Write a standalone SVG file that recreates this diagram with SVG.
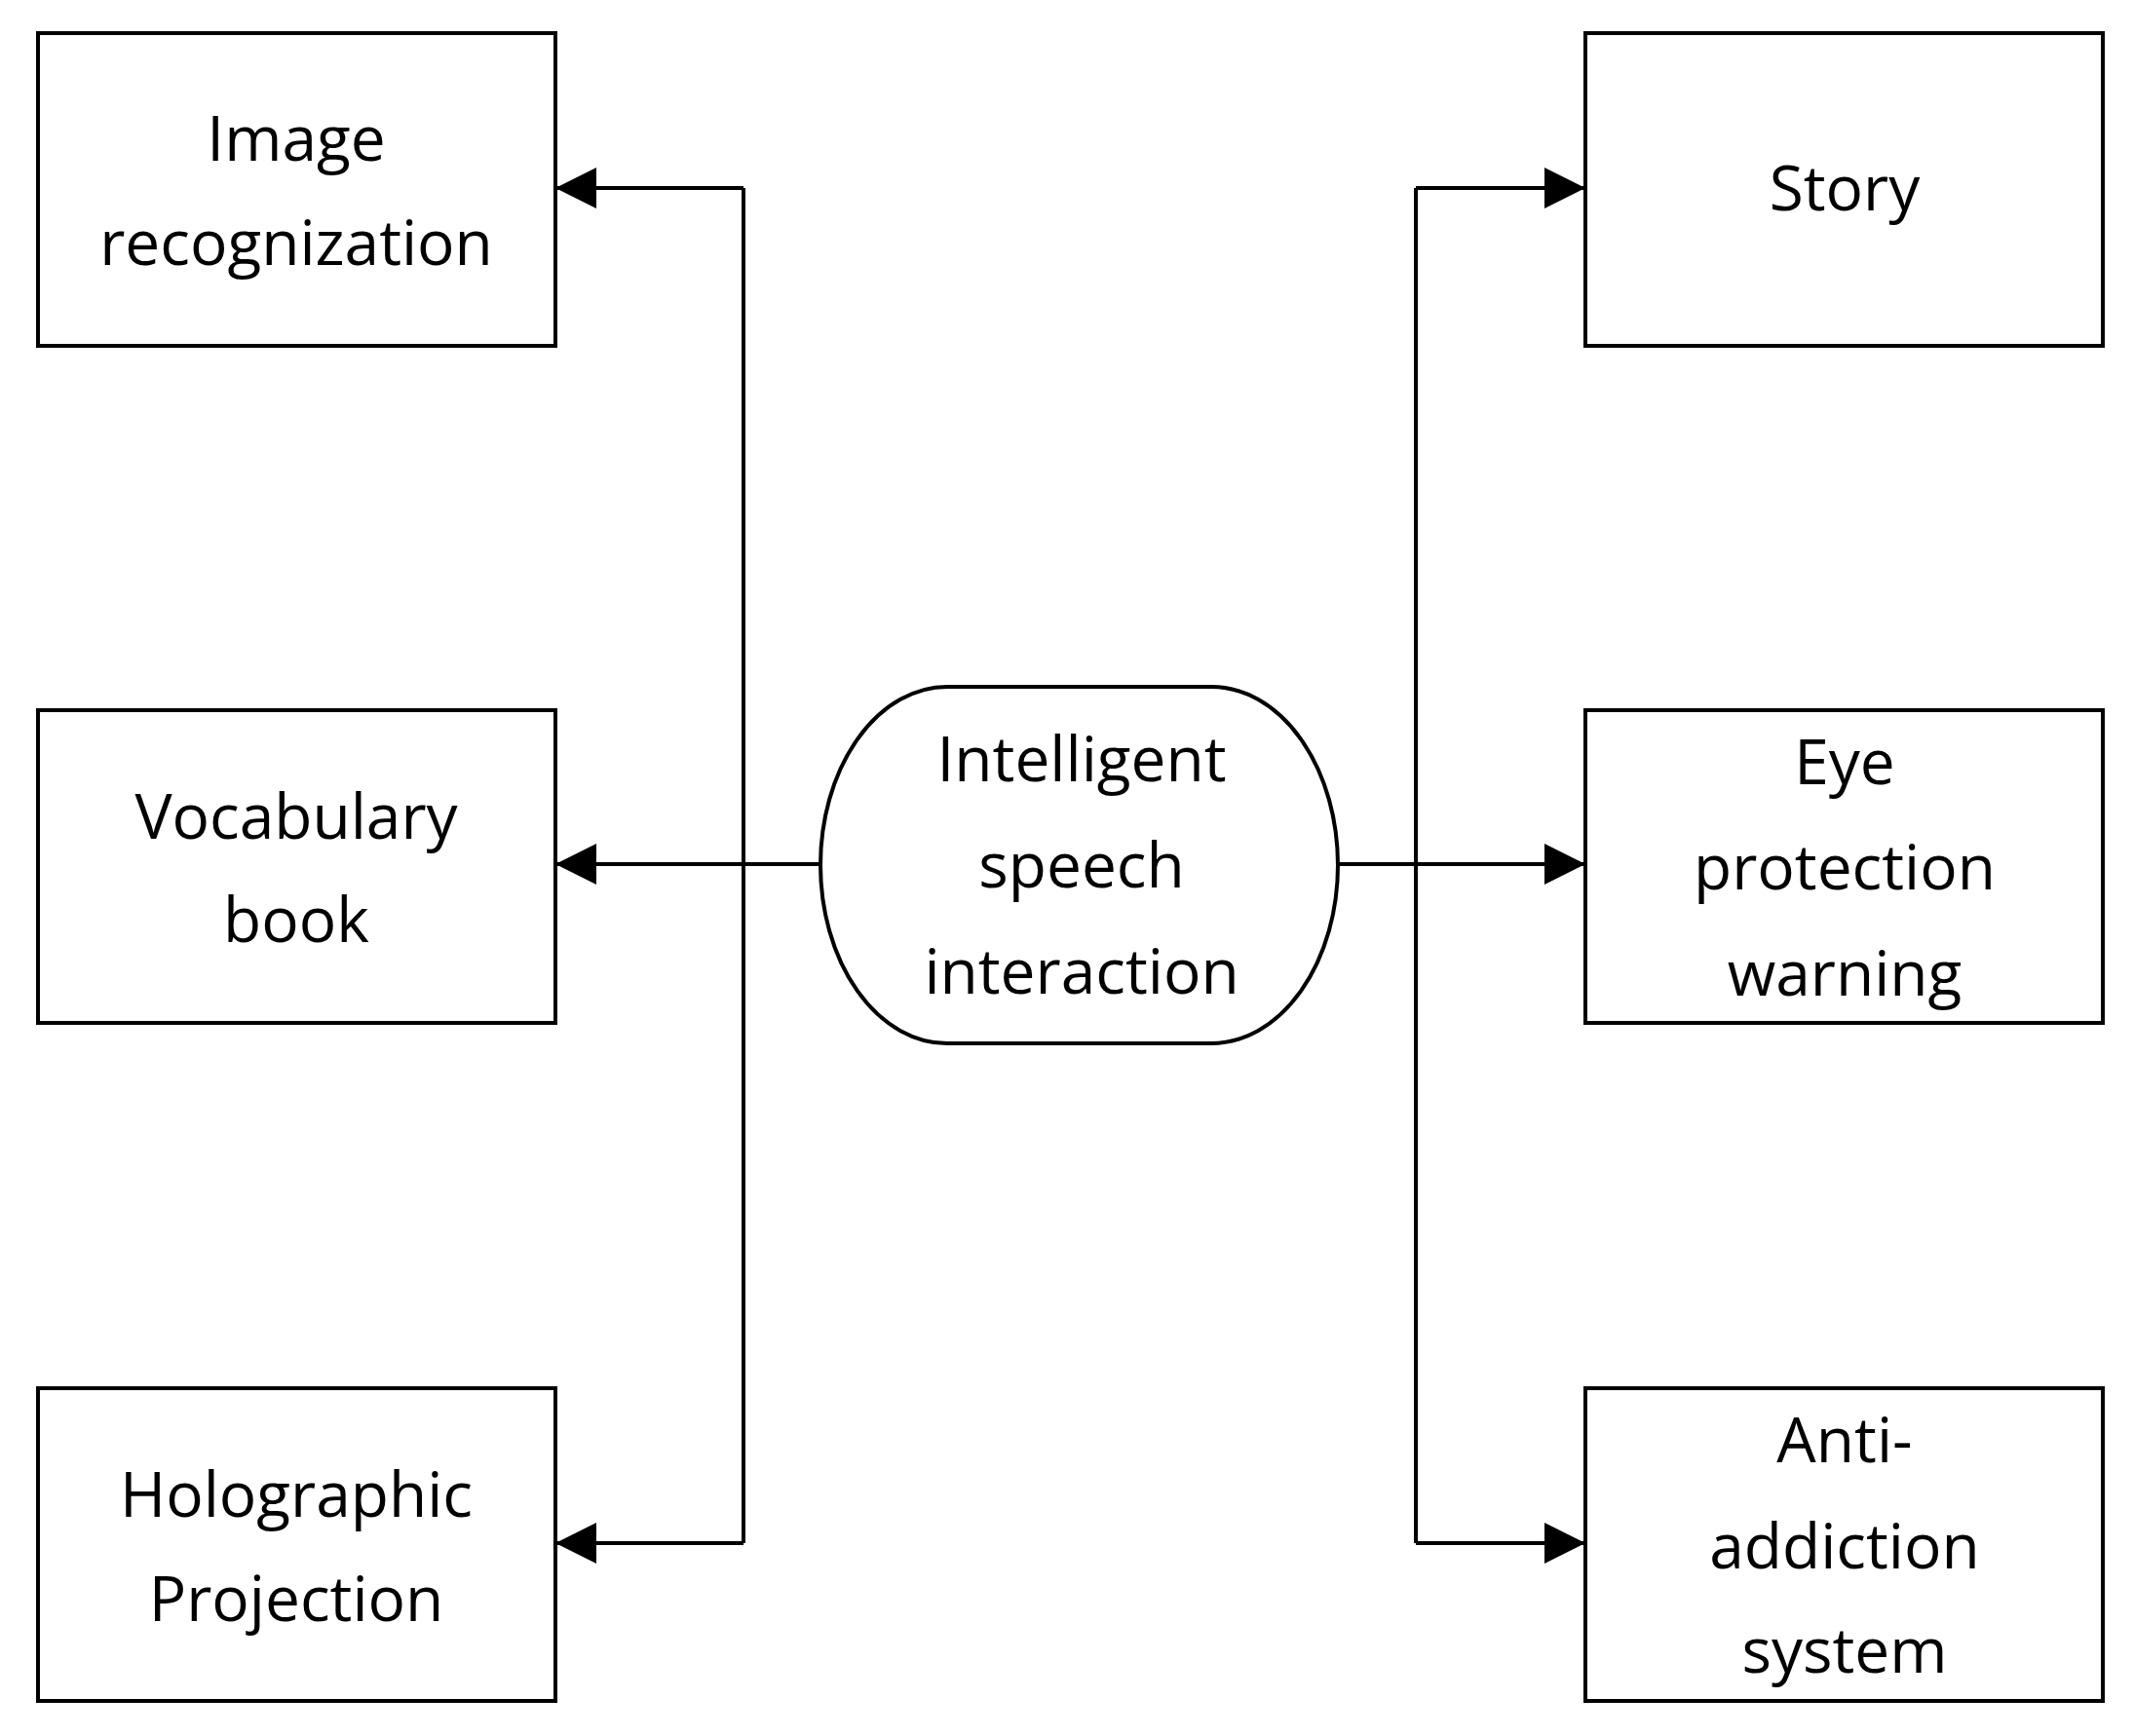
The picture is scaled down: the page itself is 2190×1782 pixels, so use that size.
<svg xmlns="http://www.w3.org/2000/svg" width="2190" height="1782" viewBox="0 0 2190 1782">
<style>
.b{fill:#fff;stroke:#000;stroke-width:4}
.t{font-family:"Open Sans","Liberation Sans",sans-serif;font-size:64px;text-anchor:middle;fill:#000}
.c{fill:none;stroke:#000;stroke-width:4}
</style>
<defs><marker id="a" markerWidth="12" markerHeight="12" refX="10" refY="5" orient="auto" markerUnits="userSpaceOnUse" viewBox="0 0 10 10"><path d="M0,0L10,5L0,10z"/></marker>
<marker id="m" markerWidth="42" markerHeight="42" refX="42" refY="21" orient="auto" markerUnits="userSpaceOnUse"><path d="M0,0L42,21L0,42z"/></marker></defs>
<rect width="2190" height="1782" fill="#fff"/>
<g id="connectors" class="c">
<path d="M842,887H570" marker-end="url(#m)"/>
<path d="M763,193V1584" />
<path d="M763,193H570" marker-end="url(#m)"/>
<path d="M763,1584H570" marker-end="url(#m)"/>
<path d="M1373,887H1627" marker-end="url(#m)"/>
<path d="M1453,193V1584"/>
<path d="M1453,193H1627" marker-end="url(#m)"/>
<path d="M1453,1584H1627" marker-end="url(#m)"/>
</g>
<g id="n1"><rect class="b" x="39" y="34" width="531" height="321"/><text class="t" x="304" y="165">Image</text><text class="t" x="304" y="272">recognization</text></g>
<g id="n2"><rect class="b" x="39" y="729" width="531" height="321"/><text class="t" x="304" y="861">Vocabulary</text><text class="t" x="304" y="967">book</text></g>
<g id="n3"><rect class="b" x="39" y="1425" width="531" height="321"/><text class="t" x="304" y="1557">Holographic</text><text class="t" x="304" y="1664">Projection</text></g>
<g id="n4"><rect class="b" x="1627" y="34" width="531" height="321"/><text class="t" x="1893" y="216">Story</text></g>
<g id="n5"><rect class="b" x="1627" y="729" width="531" height="321"/><text class="t" x="1893" y="805">Eye</text><text class="t" x="1893" y="913">protection</text><text class="t" x="1893" y="1022">warning</text></g>
<g id="n6"><rect class="b" x="1627" y="1425" width="531" height="321"/><text class="t" x="1893" y="1501">Anti-</text><text class="t" x="1893" y="1610">addiction</text><text class="t" x="1893" y="1717">system</text></g>
<g id="center"><rect class="b" x="842" y="705" width="531" height="366" rx="130" ry="183"/><text class="t" x="1110" y="802">Intelligent</text><text class="t" x="1110" y="911">speech</text><text class="t" x="1110" y="1020">interaction</text></g>
</svg>
